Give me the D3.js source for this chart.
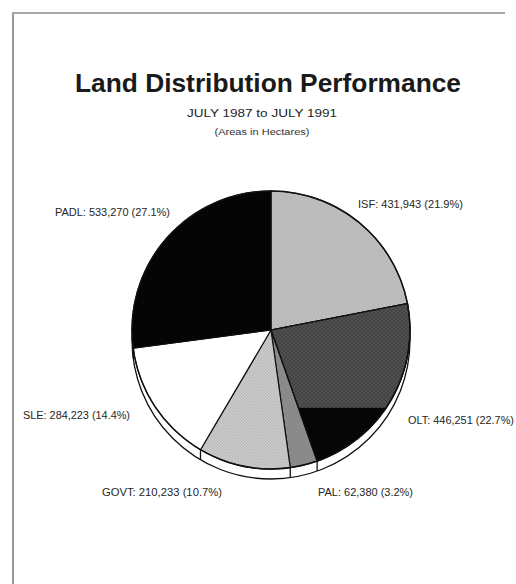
<!DOCTYPE html>
<html><head><meta charset="utf-8">
<script src="https://cdn.jsdelivr.net/npm/d3@7"></script>
<style>
html,body{margin:0;padding:0;background:#fff;}
svg{display:block;font-family:"Liberation Sans",Arial,sans-serif;}
</style></head>
<body>
<svg id="c" width="516" height="584"></svg>
<script>
// ---- data ----
const categories = ["ISF", "OLT", "PAL", "GOVT", "SLE", "PADL"];
const areas = [431943, 446251, 62380, 210233, 284223, 533270];
const percents = ["21.9%", "22.7%", "3.2%", "10.7%", "14.4%", "27.1%"];
const areaLabels = ["431,943", "446,251", "62,380", "210,233", "284,223", "533,270"];
const titleText = "Land Distribution Performance";
const subtitleText = "JULY 1987 to JULY 1991";
const unitText = "(Areas in Hectares)";

// ---- styles ----
const W = 516, H = 584;
const cx = 271, cy = 330, R = 139, depth = 10;
const fills = {ISF: "url(#pISF)", OLT: "url(#pOLT)", PAL: "#8a8a8a", GOVT: "url(#pGOVT)", SLE: "#ffffff", PADL: "#050505"};
const labelPos = {
  ISF:  {x: 358, y: 208, w: 105},
  OLT:  {x: 408, y: 424, w: 106},
  PAL:  {x: 318, y: 496, w: 95},
  GOVT: {x: 102, y: 496, w: 120},
  SLE:  {x: 23,  y: 419, w: 107},
  PADL: {x: 55,  y: 216, w: 115}
};
const oltSplitLevel = 0.56; // black lower band of OLT, in radius units below centre

const svg = d3.select("#c");
const defs = svg.append("defs");

function dotPattern(id, bg, dot, size, r) {
  const p = defs.append("pattern").attr("id", id).attr("patternUnits", "userSpaceOnUse")
    .attr("width", size).attr("height", size);
  p.append("rect").attr("width", size).attr("height", size).attr("fill", bg);
  p.append("circle").attr("cx", size / 4).attr("cy", size / 4).attr("r", r).attr("fill", dot);
  p.append("circle").attr("cx", 3 * size / 4).attr("cy", 3 * size / 4).attr("r", r).attr("fill", dot);
}
dotPattern("pISF", "#bfbfbf", "#b0b0b0", 4, 0.8);
dotPattern("pOLT", "#505050", "#3c3c3c", 4, 0.9);
dotPattern("pGOVT", "#cdcdcd", "#b2b2b2", 3, 0.7);

// frame
svg.append("line").attr("x1", 13).attr("y1", 12).attr("x2", 13).attr("y2", H)
  .attr("stroke", "#9a9a9a").attr("stroke-width", 2);
svg.append("line").attr("x1", 12).attr("y1", 13).attr("x2", 505).attr("y2", 13)
  .attr("stroke", "#a8a8a8").attr("stroke-width", 2);

// titles
function fitText(sel, width) {
  const w = sel.node().getComputedTextLength();
  if (w > 0) sel.attr("textLength", width).attr("lengthAdjust", "spacingAndGlyphs");
}
const t = svg.append("text").attr("x", 268).attr("y", 92).attr("text-anchor", "middle")
  .attr("font-weight", "bold").attr("font-size", 25).attr("fill", "#1a1a1a").text(titleText);
fitText(t, 386);
const st = svg.append("text").attr("x", 262).attr("y", 117).attr("text-anchor", "middle")
  .attr("font-size", 11).attr("fill", "#222").text(subtitleText);
fitText(st, 150);
const ut = svg.append("text").attr("x", 262).attr("y", 135).attr("text-anchor", "middle")
  .attr("font-size", 8.5).attr("fill", "#333").text(unitText);
fitText(ut, 95);

// pie
const data = categories.map((c, i) => ({cat: c, value: areas[i], pct: percents[i], lab: areaLabels[i]}));
const pie = d3.pie().sort(null).value(d => d.value);
const arcs = pie(data);
const arc = d3.arc().innerRadius(0).outerRadius(R);
const g = svg.append("g").attr("transform", `translate(${cx},${cy})`);

// side wall (rim)
g.append("circle").attr("cx", 0).attr("cy", depth).attr("r", R)
  .attr("fill", "#fff").attr("stroke", "#111").attr("stroke-width", 1.3);
// rim dividers at slice boundaries on the lower half
arcs.forEach(a => {
  const ang = a.endAngle % (2 * Math.PI);
  if (ang > Math.PI / 2 && ang < 3 * Math.PI / 2) {
    const x = R * Math.sin(ang), y = -R * Math.cos(ang);
    g.append("line").attr("x1", x).attr("y1", y).attr("x2", x).attr("y2", y + depth)
      .attr("stroke", "#111").attr("stroke-width", 1.3);
  }
});

// slices
g.selectAll("path.slice").data(arcs).join("path").attr("class", "slice")
  .attr("d", arc).attr("fill", d => fills[d.data.cat])
  .attr("stroke", "#111").attr("stroke-width", 1.2).attr("stroke-linejoin", "round");

// OLT lower black band
const olt = arcs.find(a => a.data.cat === "OLT");
defs.append("clipPath").attr("id", "oltClip").append("path").attr("d", arc(olt));
g.append("rect").attr("clip-path", "url(#oltClip)")
  .attr("x", -R).attr("y", R * oltSplitLevel).attr("width", 2 * R).attr("height", R)
  .attr("fill", "#060606");
g.append("path").attr("d", arc(olt)).attr("fill", "none").attr("stroke", "#111").attr("stroke-width", 1.2);
g.append("circle").attr("r", R).attr("fill", "none").attr("stroke", "#111").attr("stroke-width", 1.4);

// labels
svg.selectAll("text.lab").data(data).join("text").attr("class", "lab")
  .attr("x", d => labelPos[d.cat].x).attr("y", d => labelPos[d.cat].y)
  .attr("font-size", 10.5).attr("fill", "#262626")
  .text(d => `${d.cat}: ${d.lab} (${d.pct})`)
  .each(function(d) { fitText(d3.select(this), labelPos[d.cat].w); });
</script>
</body></html>
